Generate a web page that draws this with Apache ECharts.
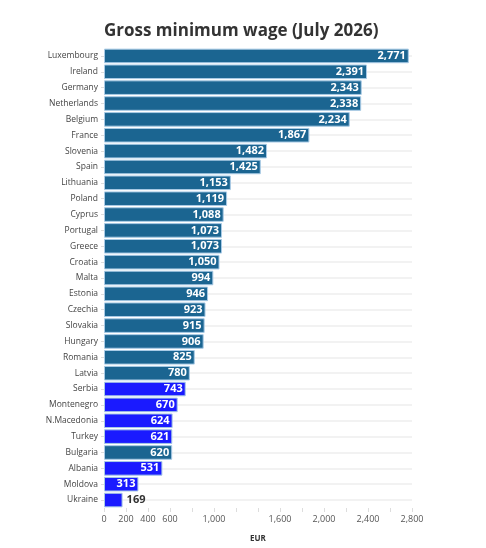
<!DOCTYPE html>
<html><head><meta charset="utf-8">
<script src="https://cdn.jsdelivr.net/npm/echarts@6/dist/echarts.min.js"></script>
<style>html,body{margin:0;padding:0;background:#fff}#c{width:486px;height:548px}</style>
</head><body><div id="c"></div>
<script>
var countries = ["Luxembourg","Ireland","Germany","Netherlands","Belgium","France","Slovenia","Spain","Lithuania","Poland","Cyprus","Portugal","Greece","Croatia","Malta","Estonia","Czechia","Slovakia","Hungary","Romania","Latvia","Serbia","Montenegro","N.Macedonia","Turkey","Bulgaria","Albania","Moldova","Ukraine"];
var wages = [2771,2391,2343,2338,2234,1867,1482,1425,1153,1119,1088,1073,1073,1050,994,946,923,915,906,825,780,743,670,624,621,620,531,313,169];
var nonEU = ["Serbia","Montenegro","N.Macedonia","Turkey","Albania","Moldova","Ukraine"];
var tickLabels = [0,200,400,600,1000,1600,2000,2400,2800];
var outsideLabel = ["Ukraine"];

var font = "'Open Sans', 'Noto Sans', sans-serif";
var data = countries.map(function(c,i){
  var d = {value: wages[i], itemStyle:{color: nonEU.indexOf(c)>=0 ? '#1a1aff' : '#1b6591'}};
  if (outsideLabel.indexOf(c)>=0) d.label = {position:'right', color:'#333', distance:4};
  return d;
});
var chart = echarts.init(document.getElementById('c'));
chart.setOption({
  animation:false,
  title:{text:'Gross minimum wage (July 2026)', left:99, top:18,
    textStyle:{fontFamily:font, fontWeight:'bold', fontSize:17, color:'#333'}},
  grid:{left:104, right:74, top:48, height:460, containLabel:false},
  xAxis:{type:'value', min:0, max:2800, interval:200,
    name:'EUR', nameLocation:'middle', nameGap:27,
    nameTextStyle:{fontFamily:font, fontWeight:'bold', fontSize:8, color:'#333'},
    axisLine:{show:false},
    axisTick:{show:true, length:4, lineStyle:{color:'#ddd'}},
    splitLine:{show:false},
    axisLabel:{fontFamily:font, fontSize:9, color:'#555', margin:7, showMinLabel:true, showMaxLabel:true,
      formatter:function(v){ return tickLabels.indexOf(v)>=0 ? v.toLocaleString('en-US') : ''; }}
  },
  yAxis:{type:'category', inverse:true, data:countries,
    axisLine:{show:false},
    axisTick:{show:true, alignWithLabel:true, length:3, lineStyle:{color:'#ddd'}},
    splitLine:{show:true, alignWithLabel:true, lineStyle:{color:'#f2f2f2', width:2}},
    axisLabel:{fontFamily:font, fontSize:8.5, color:'#444', margin:6, interval:0}
  },
  series:[{type:'bar', data:data, barCategoryGap:'8%',
    itemStyle:{borderColor:'#a9cbe6', borderWidth:1},
    label:{show:true, position:'insideRight', distance:3, fontFamily:font, fontWeight:'bold', fontSize:11, color:'#fff',
      formatter:function(p){ return p.value.toLocaleString('en-US'); }}
  }]
});
</script></body></html>
